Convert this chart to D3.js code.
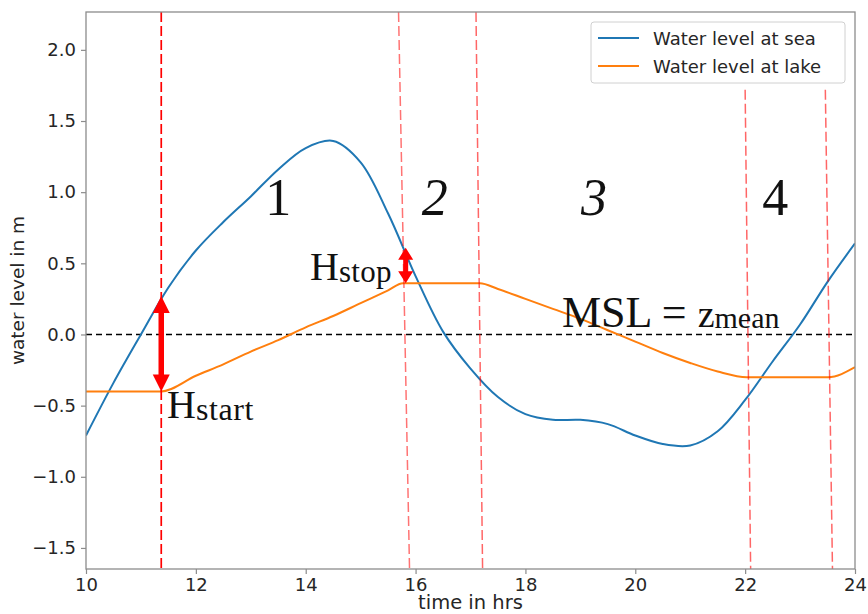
<!DOCTYPE html>
<html>
<head>
<meta charset="utf-8">
<script src="https://cdn.jsdelivr.net/npm/d3@7/dist/d3.min.js"></script>
<style>
  html, body { margin: 0; padding: 0; background: #fff; }
  svg { display: block; }
</style>
</head>
<body>
<svg id="chart" width="868" height="614"></svg>
<script>
// Sea water level (blue), sampled every half hour
const seaHours  = [10, 10.5, 11, 11.5, 12, 12.5, 13, 13.5, 14, 14.5, 15, 15.5, 16, 16.5, 17, 17.5, 18, 18.5, 19, 19.5, 20, 20.5, 21, 21.5, 22, 22.5, 23, 23.5, 24];
const seaLevels = [-0.71, -0.34, 0.0, 0.33, 0.59, 0.79, 0.97, 1.16, 1.31, 1.36, 1.21, 0.85, 0.41, 0.02, -0.24, -0.44, -0.56, -0.60, -0.60, -0.63, -0.71, -0.77, -0.78, -0.68, -0.46, -0.19, 0.07, 0.37, 0.64];

// Lake water level (orange)
const lakeHours  = [10, 11.37, 12, 12.5, 13, 13.5, 14, 14.5, 15, 15.5, 15.77, 17.17, 17.5, 18, 18.5, 19, 19.5, 20, 20.5, 21, 21.5, 22.03, 23.51, 24];
const lakeLevels = [-0.40, -0.40, -0.29, -0.21, -0.12, -0.04, 0.05, 0.13, 0.22, 0.31, 0.36, 0.36, 0.32, 0.25, 0.18, 0.11, 0.03, -0.05, -0.13, -0.20, -0.26, -0.30, -0.30, -0.23];

// Phase boundaries (time at top and bottom of each dashed marker, top level)
const markerTimeTop    = [11.37, 15.69, 17.10, 22.00, 23.46];
const markerTimeBottom = [11.37, 15.89, 17.22, 22.10, 23.59];
const markerTopLevel   = [2.266, 2.266, 2.266, 1.72, 1.72];
const markerAlpha      = [1, 0.55, 0.6, 0.6, 0.6];

// Head differences at start and stop
const arrowTimes = [11.37, 15.82];
const arrowLow   = [-0.40, 0.36];
const arrowHigh  = [0.27, 0.61];

// Phase numbers
const phaseLabels = ["1", "2", "3", "4"];
const phaseTimes  = [13.5, 16.35, 19.25, 22.55];
const phaseItalic = [false, true, true, false];

const xTicks = [10, 12, 14, 16, 18, 20, 22, 24];
const yTicks = [-1.5, -1.0, -0.5, 0.0, 0.5, 1.0, 1.5, 2.0];
const xDomain = [10, 24];
const yDomain = [-1.648, 2.266];
const mslLevel = 0;

const svg = d3.select("#chart");
const L = 86, R = 855, T = 12, B = 569;

const x = d3.scaleLinear().domain(xDomain).range([L, R]);
const y = d3.scaleLinear().domain(yDomain).range([B, T]);

svg.append("defs").append("clipPath").attr("id", "plotclip")
  .append("rect").attr("x", L).attr("y", T).attr("width", R - L).attr("height", B - T);

const plot = svg.append("g").attr("clip-path", "url(#plotclip)");

// Mean sea level
plot.append("line")
  .attr("x1", L).attr("x2", R)
  .attr("y1", y(mslLevel)).attr("y2", y(mslLevel))
  .attr("stroke", "#000").attr("stroke-width", 1.6)
  .attr("stroke-dasharray", "6,4");

// Series
const seaLine = d3.line().curve(d3.curveCatmullRom.alpha(0.5)).x(d => x(d[0])).y(d => y(d[1]));
const lakeLine = d3.line().curve(d3.curveMonotoneX).x(d => x(d[0])).y(d => y(d[1]));
plot.append("path")
  .datum(seaHours.map((h, i) => [h, seaLevels[i]]))
  .attr("d", seaLine)
  .attr("fill", "none").attr("stroke", "#1f77b4").attr("stroke-width", 2);
plot.append("path")
  .datum(lakeHours.map((h, i) => [h, lakeLevels[i]]))
  .attr("d", lakeLine)
  .attr("fill", "none").attr("stroke", "#ff7f0e").attr("stroke-width", 2);

// Phase boundary markers
markerTimeTop.forEach((t, i) => {
  plot.append("line")
    .attr("x1", x(t)).attr("y1", y(markerTopLevel[i]))
    .attr("x2", x(markerTimeBottom[i])).attr("y2", y(yDomain[0]))
    .attr("stroke", "#ff0000").attr("stroke-opacity", markerAlpha[i])
    .attr("stroke-width", i === 0 ? 1.7 : 1.5).attr("stroke-dasharray", "10,4");
});

// Double-headed arrows
function doubleArrow(cx, yTop, yBot, headLen, headW, shaftW) {
  const p = d3.path();
  p.moveTo(cx, yTop);
  p.lineTo(cx + headW / 2, yTop + headLen);
  p.lineTo(cx + shaftW / 2, yTop + headLen);
  p.lineTo(cx + shaftW / 2, yBot - headLen);
  p.lineTo(cx + headW / 2, yBot - headLen);
  p.lineTo(cx, yBot);
  p.lineTo(cx - headW / 2, yBot - headLen);
  p.lineTo(cx - shaftW / 2, yBot - headLen);
  p.lineTo(cx - shaftW / 2, yTop + headLen);
  p.lineTo(cx - headW / 2, yTop + headLen);
  p.closePath();
  return p.toString();
}
const arrowSizes = [[17, 17, 5.5], [12, 15, 5]];
arrowTimes.forEach((t, i) => {
  const s = arrowSizes[i];
  svg.append("path")
    .attr("d", doubleArrow(x(t), y(arrowHigh[i]), y(arrowLow[i]), s[0], s[1], s[2]))
    .attr("fill", "#ff0000");
});

// Axes frame
svg.append("rect").attr("x", L).attr("y", T).attr("width", R - L).attr("height", B - T)
  .attr("fill", "none").attr("stroke", "#8c8c8c").attr("stroke-width", 1.3);

const xAxis = svg.append("g").attr("transform", `translate(0,${B})`)
  .call(d3.axisBottom(x).tickValues(xTicks).tickSize(5).tickPadding(4).tickFormat(d3.format("d")));
const yAxis = svg.append("g").attr("transform", `translate(${L},0)`)
  .call(d3.axisLeft(y).tickValues(yTicks).tickSize(5).tickPadding(5).tickFormat(d3.format(".1f")));
[xAxis, yAxis].forEach(g => {
  g.select(".domain").remove();
  g.selectAll(".tick line").attr("stroke", "#8c8c8c").attr("stroke-width", 1.2);
  g.selectAll(".tick text").attr("fill", "#262626")
    .style("font-family", "'DejaVu Sans', sans-serif").style("font-size", "18px");
});

// Axis titles
svg.append("text").attr("x", (L + R) / 2).attr("y", 609)
  .attr("text-anchor", "middle").attr("fill", "#262626")
  .style("font-family", "'DejaVu Sans', sans-serif").style("font-size", "19.5px")
  .text("time in hrs");
svg.append("text")
  .attr("transform", `translate(24,${(T + B) / 2}) rotate(-90)`)
  .attr("text-anchor", "middle").attr("fill", "#262626")
  .style("font-family", "'DejaVu Sans', sans-serif").style("font-size", "18.5px")
  .text("water level in m");

// Phase numbers
const serif = "'Liberation Serif', 'Times New Roman', serif";
phaseLabels.forEach((lab, i) => {
  svg.append("text")
    .attr("x", x(phaseTimes[i])).attr("y", 215)
    .attr("text-anchor", "middle").attr("fill", "#111")
    .style("font-family", serif).style("font-size", "52px")
    .style("font-style", phaseItalic[i] ? "italic" : "normal")
    .text(lab);
});

// Annotations with subscripts
function subText(px, py, parts) {
  const t = svg.append("text").attr("x", px).attr("y", py).attr("fill", "#111")
    .style("font-family", serif);
  parts.forEach(([str, size, dy, spacing]) => {
    t.append("tspan").attr("dy", dy).style("font-size", size + "px")
      .style("letter-spacing", spacing + "px").text(str);
  });
  return t;
}
subText(167, 418, [["H", 40, 0, 0], ["start", 32, 2, 0.6]]);
subText(310, 280, [["H", 40, 0, 0], ["stop", 31, 2, 0.3]]);
subText(562, 327, [["MSL = ", 44, 0, 0], ["z", 38, 0, 0], ["mean", 30, 1, 0]]);

// Legend
const leg = svg.append("g");
leg.append("rect").attr("x", 591).attr("y", 22).attr("width", 254).attr("height", 61)
  .attr("rx", 3).attr("fill", "#fff").attr("fill-opacity", 0.85)
  .attr("stroke", "#d0d0d0").attr("stroke-width", 1);
const legItems = [["Water level at sea", "#1f77b4", 38], ["Water level at lake", "#ff7f0e", 66]];
legItems.forEach(([name, color, ly]) => {
  leg.append("line").attr("x1", 598).attr("x2", 639).attr("y1", ly).attr("y2", ly)
    .attr("stroke", color).attr("stroke-width", 2);
  leg.append("text").attr("x", 653).attr("y", ly + 6.5).attr("fill", "#262626")
    .style("font-family", "'DejaVu Sans', sans-serif").style("font-size", "18px")
    .text(name);
});
</script>
</body>
</html>
